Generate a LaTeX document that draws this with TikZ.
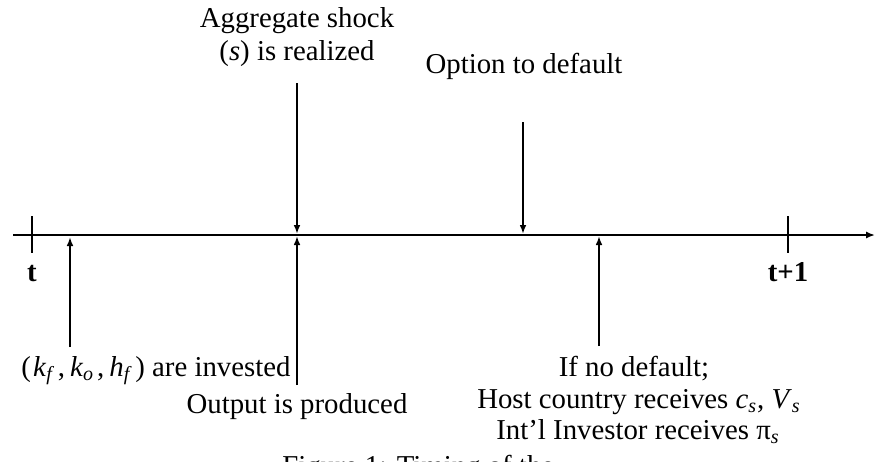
\documentclass[tikz,border=0pt]{standalone}
\usepackage{fontspec}
\setmainfont{Liberation Serif}
\usetikzlibrary{arrows.meta}
\newcommand\sbs[1]{\textsubscript{\itshape #1}}
\begin{document}
\begin{tikzpicture}[x=0.5pt,y=-0.5pt,
  lbl/.style={inner sep=0pt,anchor=base,font=\fontsize{14.4}{16}\selectfont},
  bold lbl/.style={lbl,font=\fontsize{14.4}{16}\selectfont\bfseries},
  axisline/.style={line width=1pt,-{Latex[length=4.5pt,width=3.6pt]}},
  tickline/.style={line width=0.9pt},
  evt/.style={line width=0.9pt,-{Latex[length=4.5pt,width=3.4pt]}}]
\useasboundingbox (0,0) rectangle (876,461);
\clip (0,0) rectangle (876,461);

% time axis and period ticks
\coordinate (axL) at (13,235);
\coordinate (axR) at (875,235);
\draw[axisline] (axL) -- (axR);
\coordinate (tTop) at (32,216);   \coordinate (tBot) at (32,253);
\coordinate (t1Top) at (788,216); \coordinate (t1Bot) at (788,253);
\draw[tickline] (tTop) -- (tBot);
\draw[tickline] (t1Top) -- (t1Bot);
\node[bold lbl] (tlab) at (32,281) {t};
\node[bold lbl] (t1lab) at (788,281) {t+1};

% investment
\coordinate (invB) at (70,347);
\coordinate (invA) at (70,237);
\draw[evt] (invB) -- (invA);
\node[lbl] (invlab) at (156,376) {(\kern1pt\textit{k}\sbs{f}\kern2.5pt,\kern2.5pt\textit{k}\sbs{o}\kern1.5pt,\kern2.5pt\textit{h}\sbs{f}\kern2.5pt) are invested};

% aggregate shock
\node[lbl] (agg1) at (297,27) {Aggregate shock};
\node[lbl] (agg2) at (297,60) {(\textit{s}) is realized};
\coordinate (aggT) at (297,83);
\coordinate (aggA) at (297,234);
\draw[evt] (aggT) -- (aggA);

% production
\coordinate (outB) at (297,385);
\coordinate (outA) at (297,236);
\draw[evt] (outB) -- (outA);
\node[lbl] (outlab) at (297,413) {Output is produced};

% default option
\node[lbl] (optlab) at (524,73) {Option to default};
\coordinate (optT) at (523,122);
\coordinate (optA) at (523,234);
\draw[evt] (optT) -- (optA);

% payoffs without default
\coordinate (ndB) at (599,346);
\coordinate (ndA) at (599,236);
\draw[evt] (ndB) -- (ndA);
\node[lbl] (nd1) at (634,376) {If no default;};
\node[lbl] (nd2) at (639,408) {Host country receives \textit{c}\sbs{s}, \textit{V}\sbs{s}};
\node[lbl] (nd3) at (638,439) {Int’l Investor receives π\sbs{s}};

% caption
\node[lbl,anchor=base west] (cap) at (282,475) {Figure 1: Timing of the};
\end{tikzpicture}
\end{document}
